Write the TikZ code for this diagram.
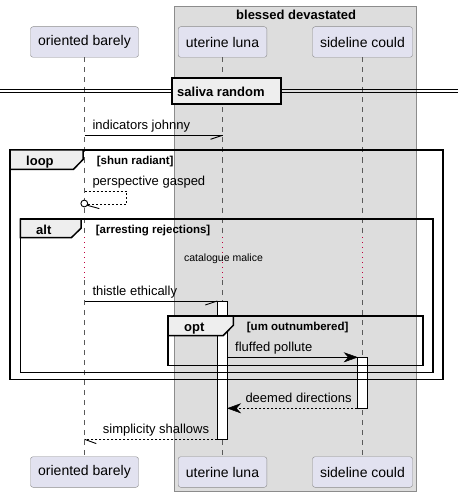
\documentclass[tikz,border=0pt]{standalone}
\usepackage{fontspec}
\setmainfont{Liberation Sans}
\newcommand\fsz[1]{\fontsize{#1}{#1}\selectfont}
\definecolor{partfill}{HTML}{E2E2F0}
\definecolor{partdraw}{HTML}{8C8C8C}
\definecolor{grpfill}{HTML}{DDDDDD}
\definecolor{grpdraw}{HTML}{8C8C8C}
\definecolor{tabfill}{HTML}{EEEEEE}
\definecolor{lifeclr}{HTML}{5A5A5A}
\definecolor{delayclr}{HTML}{C0003C}
\tikzset{
  part/.style={draw=partdraw, fill=partfill, rounded corners=2.5pt, minimum height=30.6pt, inner sep=0pt, font=\fsz{14}},
  lifeline/.style={draw=lifeclr, line width=0.6pt, dash pattern=on 5pt off 5pt},
  delayline/.style={draw=delayclr, line width=1.2pt, dash pattern=on 1.2pt off 3.8pt},
  frameline/.style={draw=black, line width=1.5pt},
  tabshape/.style={fill=tabfill, draw=black, line width=1.5pt, line join=miter},
  msg/.style={draw=black, line width=0.9pt},
  msgdash/.style={draw=black, line width=0.9pt, dash pattern=on 2pt off 2pt},
  lbl/.style={anchor=base west, inner sep=0pt, font=\fsz{13}},
  kw/.style={anchor=base west, inner sep=0pt, font=\bfseries\fsz{13}},
  guard/.style={anchor=base west, inner sep=0pt, font=\bfseries\fsz{11.5}},
  act/.style={draw=black, fill=white, line width=0.9pt},
  headfill/.style={fill=black, draw=black, line width=0.5pt, line join=miter},
}
\begin{document}
\begin{tikzpicture}[x=1pt,y=-1pt]
\useasboundingbox (0,0) rectangle (458,497);
% group box
\draw[fill=grpfill, draw=grpdraw, line width=0.8pt] (174.3,6) rectangle (416.7,491.7);
\node[kw] (grptitle) at (236,19.5) {blessed devastated};
% participants
\node[part, minimum width=108pt] (ob) at (84.5,42) {oriented barely};
\node[part, minimum width=88.6pt] (ul) at (222.5,42) {uterine luna};
\node[part, minimum width=100pt] (sc) at (362.5,42) {sideline could};
\node[part, minimum width=108pt] (obb) at (84.5,472) {oriented barely};
\node[part, minimum width=88.6pt] (ulb) at (222.5,472) {uterine luna};
\node[part, minimum width=100pt] (scb) at (362.5,472) {sideline could};
% lifelines with delay
\coordinate (obd1) at (84.5,237);
\coordinate (obd2) at (84.5,280);
\coordinate (uld1) at (222.5,237);
\coordinate (uld2) at (222.5,280);
\coordinate (scd1) at (362.5,237);
\coordinate (scd2) at (362.5,280);
\draw[lifeline] (ob.south) -- (obd1);
\draw[lifeline] (obd2) -- (obb.north);
\draw[lifeline] (ul.south) -- (uld1);
\draw[lifeline] (uld2) -- (ulb.north);
\draw[lifeline] (sc.south) -- (scd1);
\draw[lifeline] (scd2) -- (scb.north);
\draw[delayline] (obd1) -- (obd2);
\draw[delayline] (uld1) -- (uld2);
\draw[delayline] (scd1) -- (scd2);
\node[inner sep=0pt, font=\fsz{10.5}] (delaytxt) at (223.5,259) {catalogue malice};
% divider
\coordinate (dvl1) at (0,89.3);
\coordinate (dvr1) at (458,89.3);
\coordinate (dvl2) at (0,92.6);
\coordinate (dvr2) at (458,92.6);
\draw[line width=1pt] (dvl1) -- (dvr1);
\draw[line width=1pt] (dvl2) -- (dvr2);
\draw[fill=tabfill, draw=black, line width=2pt] (172.3,78.3) rectangle (281,104);
\node[kw] (divtxt) at (177,96.3) {saliva random};
% message 1
\coordinate (m1a) at (84.5,135.3);
\coordinate (m1b) at (222.5,135.3);
\coordinate (m1c) at (210.5,139.3);
\draw[msg] (m1a) -- (m1b);
\draw[msg] (m1b) -- (m1c);
\node[lbl] (m1t) at (92.3,129.3) {indicators johnny};
% activations
\coordinate (a1t) at (217.3,301);
\coordinate (a1b) at (227.3,439.3);
\draw[act] (a1t) rectangle (a1b);
\coordinate (a2t) at (357.3,357.3);
\coordinate (a2b) at (367.3,408.3);
\draw[act] (a2t) rectangle (a2b);
% loop frame
\draw[frameline] (10,150) rectangle (443,379.3);
\draw[tabshape] (10,150) -- (83,150) -- (83,159.5) -- (73.5,169.3) -- (10,169.3) -- cycle;
\node[kw] (looplbl) at (26,165) {loop};
\node[guard] (loopg) at (96.7,164.2) {[shun radiant]};
% self message
\coordinate (s1) at (84.5,191.3);
\coordinate (s2) at (126.5,191.3);
\coordinate (s3) at (126.5,204.3);
\coordinate (s4) at (88,204.3);
\coordinate (sc0) at (84.3,203.5);
\coordinate (sh1) at (87.3,205.3);
\coordinate (sh2) at (99.3,208.6);
\draw[msgdash] (s1) -- (s2) -- (s3) -- (s4);
\draw[msg, fill=white] (sc0) circle (3.4pt);
\draw[msg] (sh1) -- (sh2);
\node[lbl] (st) at (92.3,185.3) {perspective gasped};
% alt frame
\draw[frameline] (20.3,219) rectangle (433,372.3);
\draw[tabshape] (20.3,219) -- (81,219) -- (81,228.3) -- (71.3,237.7) -- (20.3,237.7) -- cycle;
\node[kw] (altlbl) at (36,234) {alt};
\node[guard] (altg) at (95.7,233.2) {[arresting rejections]};
% message thistle
\coordinate (m2a) at (84.5,301);
\coordinate (m2b) at (217.3,301);
\coordinate (m2c) at (205.3,305);
\draw[msg] (m2a) -- (m2b);
\draw[msg] (m2b) -- (m2c);
\node[lbl] (m2t) at (92.3,295) {thistle ethically};
% opt frame
\draw[frameline] (168,316) rectangle (423,365.7);
\draw[tabshape] (168,316) -- (233.3,316) -- (233.3,325.3) -- (223.3,335.5) -- (168,335.5) -- cycle;
\node[kw] (optlbl) at (184,331) {opt};
\node[guard] (optg) at (246.7,330) {[um outnumbered]};
% message fluffed
\coordinate (m3a) at (227.3,357.3);
\coordinate (m3b) at (349,357.3);
\coordinate (m3tip) at (357.3,357.3);
\draw[msg] (m3a) -- (m3b);
\draw[headfill] (m3tip) -- (344.5,352.8) -- (348.5,357.3) -- (344.5,361.8) -- cycle;
\node[lbl] (m3t) at (235,351.3) {fluffed pollute};
% message deemed
\coordinate (m4a) at (357.3,408.3);
\coordinate (m4b) at (236,408.3);
\coordinate (m4tip) at (227.8,408.3);
\draw[msgdash] (m4a) -- (m4b);
\draw[headfill] (m4tip) -- (240.3,403.8) -- (236.3,408.3) -- (240.3,412.8) -- cycle;
\node[lbl] (m4t) at (245.3,402.3) {deemed directions};
% message simplicity
\coordinate (m5a) at (217.3,439.3);
\coordinate (m5b) at (84.5,439.3);
\coordinate (m5c) at (96.3,443.6);
\draw[msgdash] (m5a) -- (m5b);
\draw[msg] (m5b) -- (m5c);
\node[lbl] (m5t) at (102.7,433.3) {simplicity shallows};
\end{tikzpicture}
\end{document}
